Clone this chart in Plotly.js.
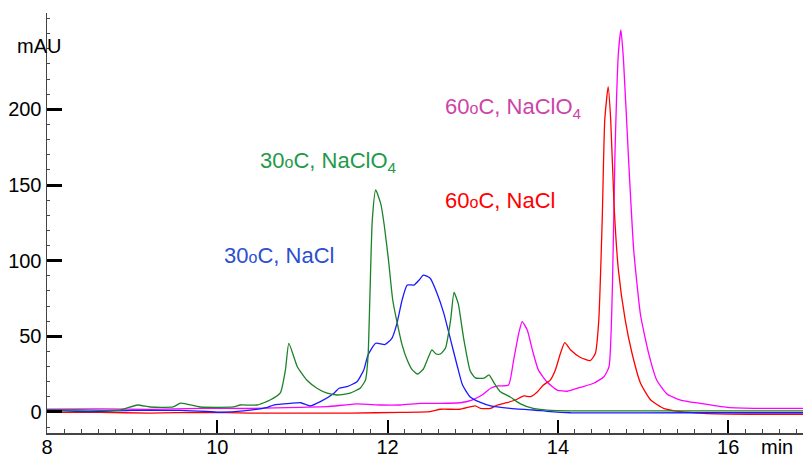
<!DOCTYPE html>
<html>
<head>
<meta charset="utf-8">
<script src="https://cdn.plot.ly/plotly-3.0.1.min.js"></script>
<style>html,body{margin:0;padding:0;background:#fff;}#chart{width:803px;height:454px;}</style>
</head>
<body>
<div id="chart"></div>
<script>
// Retention time (min) and absorbance (mAU)
const greenX = [8.00, 8.39, 8.86, 9.06, 9.21, 9.48, 9.57, 9.80, 10.19, 10.27, 10.47, 10.62, 10.74, 10.80, 10.84, 10.94, 11.05, 11.17, 11.29, 11.41, 11.56, 11.68, 11.74, 11.77, 11.79, 11.82, 11.86, 11.92, 11.96, 12.01, 12.06, 12.11, 12.17, 12.23, 12.29, 12.35, 12.42, 12.48, 12.52, 12.57, 12.62, 12.68, 12.74, 12.78, 12.83, 12.89, 12.97, 13.03, 13.13, 13.19, 13.25, 13.32, 13.44, 13.56, 13.71, 13.91, 14.15, 14.73, 15.67, 16.88];
const greenY = [1.3, 1.3, 1.3, 4.6, 3.3, 3.3, 5.9, 3.3, 3.3, 4.6, 4.6, 7.9, 12.6, 27.8, 45.4, 29.9, 21.1, 15.7, 12.4, 11.2, 12.4, 15.9, 21.1, 36.5, 72.0, 126.9, 146.7, 137.5, 123.6, 100.5, 74.0, 59.5, 44.3, 34.4, 27.8, 25.1, 28.4, 36.4, 41.0, 38.3, 38.3, 42.3, 60.8, 79.0, 71.4, 49.6, 27.1, 22.5, 22.3, 24.5, 19.2, 13.6, 9.9, 5.3, 2.3, 1.0, 0.7, 0.7, 0.7, 0.7];

const blueX = [8.00, 8.51, 9.01, 9.57, 9.88, 10.04, 10.31, 10.59, 10.66, 10.86, 10.98, 11.09, 11.21, 11.37, 11.43, 11.52, 11.64, 11.72, 11.77, 11.86, 11.97, 12.05, 12.11, 12.17, 12.23, 12.31, 12.37, 12.42, 12.50, 12.58, 12.66, 12.74, 12.82, 12.88, 12.97, 13.09, 13.21, 13.44, 13.71, 13.91, 14.15, 15.67, 16.88];
const blueY = [1.3, 0.2, 1.1, 1.0, 0.3, -0.2, 0.7, 3.1, 4.6, 5.7, 6.1, 4.0, 6.8, 12.4, 15.7, 16.7, 20.0, 27.8, 37.7, 45.4, 44.6, 48.7, 58.6, 74.0, 83.9, 83.9, 87.2, 90.5, 88.4, 78.5, 65.2, 47.6, 29.9, 17.8, 9.9, 6.3, 4.0, 2.4, 1.3, 0.2, -0.5, -0.5, -0.5];

const magentaX = [8.00, 8.63, 9.21, 9.80, 10.39, 10.98, 11.29, 11.64, 11.92, 12.15, 12.39, 12.62, 12.85, 12.99, 13.11, 13.21, 13.30, 13.42, 13.48, 13.54, 13.58, 13.64, 13.70, 13.77, 13.87, 13.99, 14.11, 14.26, 14.42, 14.54, 14.60, 14.64, 14.67, 14.71, 14.74, 14.77, 14.83, 14.89, 14.97, 15.07, 15.16, 15.28, 15.44, 15.67, 15.99, 16.38, 16.88];
const magentaY = [1.8, 2.0, 1.7, 2.4, 2.3, 3.1, 3.5, 5.3, 4.6, 4.6, 5.7, 5.7, 6.1, 7.9, 11.2, 15.7, 17.2, 17.8, 34.4, 52.0, 59.7, 54.2, 41.0, 27.8, 20.0, 14.5, 13.7, 16.2, 19.0, 23.3, 29.9, 82.8, 171.0, 237.1, 252.5, 232.7, 166.6, 107.1, 64.1, 37.7, 21.1, 11.9, 7.9, 5.7, 3.1, 2.4, 2.4];

const redX = [8.00, 8.63, 9.21, 9.80, 10.39, 10.98, 11.56, 12.15, 12.50, 12.62, 12.85, 13.03, 13.09, 13.21, 13.29, 13.40, 13.50, 13.60, 13.68, 13.76, 13.83, 13.91, 13.97, 14.03, 14.08, 14.15, 14.26, 14.38, 14.44, 14.48, 14.52, 14.55, 14.59, 14.62, 14.66, 14.71, 14.79, 14.87, 14.97, 15.09, 15.24, 15.44, 15.71, 16.24, 16.88];
const redY = [-0.3, -0.3, -0.7, -0.3, -0.7, -0.7, -0.7, -0.3, 0.2, 1.8, 1.8, 4.0, 2.4, 2.4, 4.6, 6.1, 7.9, 10.6, 10.1, 13.4, 17.8, 21.1, 27.8, 38.8, 45.8, 41.0, 36.2, 33.9, 38.8, 60.8, 126.9, 193.0, 215.0, 193.0, 135.7, 93.9, 60.8, 38.8, 19.0, 7.9, 2.4, 0.2, -0.9, -1.5, -1.5];

const seriesNames = ["30oC, NaClO4", "30oC, NaCl", "60oC, NaClO4", "60oC, NaCl"];
const yTickVals = [0, 50, 100, 150, 200];
const xTickVals = [8, 10, 12, 14, 16];

const FONT = "Liberation Sans, Arial, Helvetica, sans-serif";
const deg = '<span style="font-size:16px">o</span>';

const lineShape = {shape: "spline", smoothing: 0.5};
const traces = [
  {x: magentaX, y: magentaY, name: seriesNames[2], mode: "lines", line: Object.assign({color: "#ff00ff", width: 1.3}, lineShape)},
  {x: redX, y: redY, name: seriesNames[3], mode: "lines", line: Object.assign({color: "#ff0000", width: 1.3}, lineShape)},
  {x: blueX, y: blueY, name: seriesNames[1], mode: "lines", line: Object.assign({color: "#1a1aff", width: 1.3}, lineShape)},
  {x: greenX, y: greenY, name: seriesNames[0], mode: "lines", line: Object.assign({color: "#1b8226", width: 1.3}, lineShape)}
];

const layout = {
  width: 803, height: 454,
  margin: {l: 47, r: 0, t: 13, b: 21, pad: 0},
  paper_bgcolor: "#fff", plot_bgcolor: "#fff",
  showlegend: false,
  font: {family: FONT, size: 20, color: "#000"},
  xaxis: {
    range: [8.0, 16.878], showgrid: false, zeroline: false,
    showline: true, linecolor: "#444", linewidth: 1.5,
    tickmode: "array", tickvals: xTickVals,
    ticks: "inside", ticklen: 13, tickwidth: 2, tickcolor: "#000",
    ticklabelstandoff: -5,
    tickfont: {family: FONT, size: 20, color: "#000"},
    minor: {dtick: 0.2, ticks: "inside", ticklen: 4, tickwidth: 1, tickcolor: "#444"}
  },
  yaxis: {
    range: [-13.9, 263.7], showgrid: false, zeroline: false,
    showline: true, linecolor: "#444", linewidth: 1.5,
    tickmode: "array", tickvals: yTickVals,
    ticks: "inside", ticklen: 15, tickwidth: 3, tickcolor: "#000",
    tickfont: {family: FONT, size: 20, color: "#000"},
    minor: {dtick: 10, ticks: "inside", ticklen: 3, tickwidth: 1, tickcolor: "#444"}
  },
  annotations: [
    {text: "mAU", xref: "paper", yref: "paper", x: -0.0106, y: 0.921, showarrow: false, xanchor: "center", yanchor: "middle", font: {family: FONT, size: 20, color: "#000"}},
    {text: "min", xref: "paper", yref: "paper", x: 0.966, y: -0.033, showarrow: false, xanchor: "center", yanchor: "middle", font: {family: FONT, size: 20, color: "#000"}},
    {text: "30" + deg + "C, NaClO<sub>4</sub>", xref: "x", yref: "y", x: 10.48, y: 165.2, showarrow: false, xanchor: "left", yanchor: "middle", font: {family: FONT, size: 22, color: "#1f9a4a"}},
    {text: "30" + deg + "C, NaCl", xref: "x", yref: "y", x: 10.06, y: 103.1, showarrow: false, xanchor: "left", yanchor: "middle", font: {family: FONT, size: 22, color: "#2b4fd0"}},
    {text: "60" + deg + "C, NaClO<sub>4</sub>", xref: "x", yref: "y", x: 12.655, y: 200.9, showarrow: false, xanchor: "left", yanchor: "middle", font: {family: FONT, size: 22, color: "#cc44a8"}},
    {text: "60" + deg + "C, NaCl", xref: "x", yref: "y", x: 12.655, y: 140.1, showarrow: false, xanchor: "left", yanchor: "middle", font: {family: FONT, size: 22, color: "#ff0000"}}
  ]
};

Plotly.newPlot("chart", traces, layout, {displayModeBar: false, staticPlot: true});
</script>
</body>
</html>
